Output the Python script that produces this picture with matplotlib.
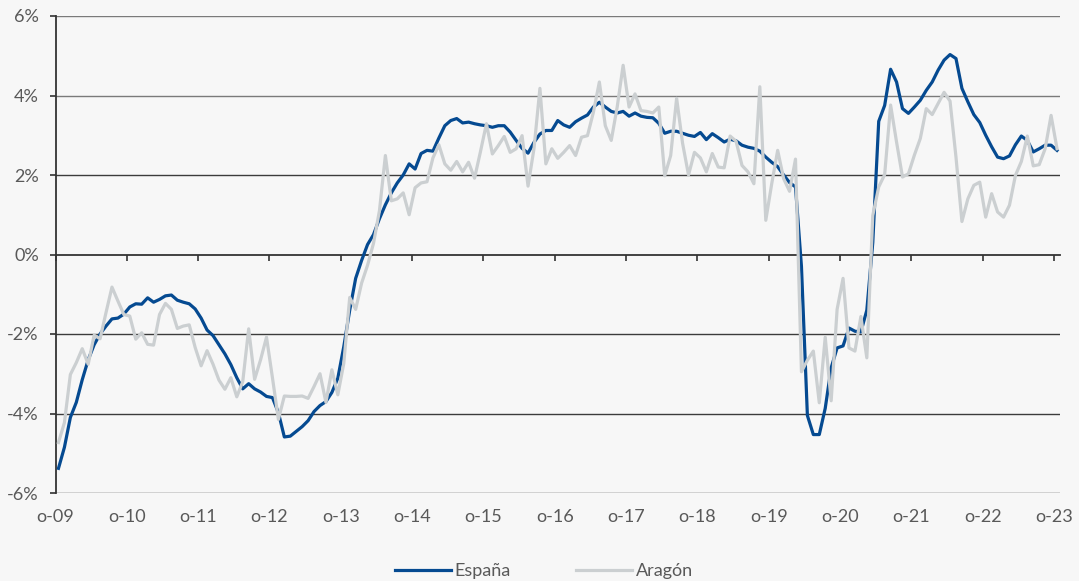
import matplotlib
matplotlib.use("Agg")
import matplotlib.pyplot as plt
import matplotlib.transforms as mtransforms

# ---- data -----------------------------------------------------------------
tick_labels = ["o-09", "o-10", "o-11", "o-12", "o-13", "o-14", "o-15",
               "o-16", "o-17", "o-18", "o-19", "o-20", "o-21", "o-22", "o-23"]

espana = [
    -5.38, -4.85, -4.10, -3.72, -3.15, -2.65, -2.27, -2.00, -1.80, -1.62,
    -1.60, -1.50, -1.32, -1.24, -1.25, -1.09, -1.20, -1.13, -1.04, -1.02,
    -1.15, -1.20, -1.24, -1.37, -1.60, -1.90, -2.04, -2.27, -2.50, -2.77,
    -3.10, -3.38, -3.25, -3.38, -3.46, -3.57, -3.60, -3.98, -4.59, -4.57,
    -4.45, -4.33, -4.18, -3.95, -3.80, -3.70, -3.47, -3.11, -2.32, -1.40,
    -0.60, -0.15, 0.25, 0.50, 0.90, 1.25, 1.55, 1.80, 2.00, 2.28,
    2.15, 2.54, 2.62, 2.60, 2.93, 3.24, 3.37, 3.42, 3.31, 3.33,
    3.29, 3.26, 3.24, 3.20, 3.24, 3.24, 3.08, 2.87, 2.67, 2.55,
    2.82, 3.03, 3.12, 3.12, 3.37, 3.26, 3.20, 3.34, 3.43, 3.51,
    3.71, 3.83, 3.71, 3.60, 3.56, 3.60, 3.48, 3.56, 3.48, 3.45,
    3.44, 3.30, 3.05, 3.10, 3.10, 3.05, 3.00, 2.97, 3.07, 2.89,
    3.04, 2.94, 2.83, 2.90, 2.86, 2.75, 2.70, 2.67, 2.60, 2.45,
    2.32, 2.21, 2.00, 1.81, 1.70, -0.30, -4.05, -4.53, -4.53, -3.87,
    -2.85, -2.35, -2.30, -1.85, -1.93, -1.95, -1.40, 0.30, 3.35, 3.75,
    4.66, 4.34, 3.67, 3.55, 3.71, 3.88, 4.13, 4.34, 4.64, 4.89,
    5.03, 4.93, 4.18, 3.84, 3.52, 3.32, 3.00, 2.71, 2.45, 2.41,
    2.48, 2.76, 2.98, 2.87, 2.58, 2.66, 2.75, 2.75, 2.62,
]

aragon = [
    -4.73, -4.23, -3.02, -2.72, -2.37, -2.76, -2.03, -2.12, -1.46, -0.82,
    -1.17, -1.51, -1.55, -2.13, -1.97, -2.26, -2.28, -1.51, -1.23, -1.38,
    -1.86, -1.80, -1.77, -2.34, -2.80, -2.42, -2.76, -3.16, -3.39, -3.10,
    -3.58, -3.20, -1.87, -3.14, -2.65, -2.08, -3.10, -4.15, -3.56, -3.57,
    -3.57, -3.56, -3.62, -3.32, -3.00, -3.72, -2.90, -3.53, -2.74, -1.08,
    -1.38, -0.72, -0.27, 0.28, 1.10, 2.49, 1.35, 1.40, 1.55, 1.00,
    1.68, 1.80, 1.83, 2.43, 2.76, 2.28, 2.12, 2.34, 2.08, 2.32,
    1.92, 2.59, 3.29, 2.53, 2.74, 2.97, 2.57, 2.66, 2.99, 1.72,
    2.66, 4.18, 2.28, 2.66, 2.42, 2.57, 2.74, 2.49, 2.95, 2.99,
    3.58, 4.34, 3.24, 2.87, 3.71, 4.76, 3.71, 4.04, 3.62, 3.60,
    3.56, 3.71, 1.98, 2.49, 3.93, 2.80, 2.00, 2.57, 2.43, 2.08,
    2.54, 2.20, 2.18, 2.98, 2.85, 2.24, 2.08, 1.78, 4.22, 0.86,
    1.78, 2.62, 1.91, 1.59, 2.40, -2.95, -2.66, -2.43, -3.73, -2.08,
    -3.68, -1.38, -0.60, -2.35, -2.43, -1.56, -2.60, 0.98, 1.70, 2.01,
    3.76, 2.83, 1.95, 2.03, 2.50, 2.92, 3.67, 3.52, 3.80, 4.08,
    3.86, 2.45, 0.83, 1.40, 1.74, 1.82, 0.94, 1.53, 1.07, 0.94,
    1.24, 1.99, 2.34, 2.98, 2.23, 2.26, 2.66, 3.50, 2.66,
]

y_ticks = [-6, -4, -2, 0, 2, 4, 6]
y_tick_labels = ["-6%", "-4%", "-2%", "0%", "2%", "4%", "6%"]

# ---- style ------------------------------------------------------------------
BG = "#f7f7f7"
BLUE = "#054a91"
GRAY = "#cbcfd1"
TXT = "#595959"
FONT = ["Lato", "DejaVu Sans"]

plt.rcParams["font.family"] = FONT

fig = plt.figure(figsize=(10.79, 5.81), dpi=100, facecolor=BG)
ax = fig.add_axes([55.5 / 1079, 1 - 493 / 581, (1060 - 55.5) / 1079, (493 - 16) / 581])
ax.set_facecolor(BG)

months = [i + 0.5 for i in range(len(espana))]
ax.plot(months, espana, color=BLUE, lw=2.3, label="España", solid_joinstyle="round", zorder=3)
ax.plot(months, aragon, color=GRAY, lw=2.3, label="Aragón", solid_joinstyle="round", zorder=4)

ax.set_xlim(0, 169)
ax.set_ylim(-6, 6)

# grid lines
for v in y_ticks:
    if v == 0:
        continue
    c = "#7a7a7a" if v > 2 else "#3c3c3c"
    ax.axhline(v, color=c, lw=1.0, zorder=1)

# spines
for s in ["top", "right"]:
    ax.spines[s].set_visible(False)
ax.spines["left"].set_color("#333333")
ax.spines["left"].set_linewidth(1.3)
ax.spines["bottom"].set_position(("data", 0))
ax.spines["bottom"].set_color("#333333")
ax.spines["bottom"].set_linewidth(1.3)
ax.spines["bottom"].set_zorder(2)

xt = [12 * k for k in range(len(tick_labels))]
ax.set_xticks(xt)
ax.set_xticklabels([])
ax.tick_params(axis="x", direction="out", length=4, width=1.2, color="#333333")

ax.set_yticks(y_ticks)
ax.set_yticklabels(y_tick_labels)
ax.tick_params(axis="y", direction="out", length=4, width=1.2, color="#333333",
               labelsize=13, labelcolor=TXT, pad=8)

trans = mtransforms.blended_transform_factory(ax.transData, ax.transAxes)
for x, lab in zip(xt, tick_labels):
    t = ax.text(x, 0, lab, transform=trans, ha="center", va="top", fontsize=13,
                color=TXT)
    t.set_transform(trans + mtransforms.ScaledTranslation(0, -16 / 100, fig.dpi_scale_trans))

leg = fig.legend(loc="center", bbox_to_anchor=(544 / 1079, 1 - 571 / 581), ncol=2,
                 frameon=False, handlelength=3.1, handletextpad=0.2,
                 columnspacing=3.6, prop={"size": 13})
for t in leg.get_texts():
    t.set_color(TXT)

fig.savefig("out.png", dpi=100, facecolor=BG)
